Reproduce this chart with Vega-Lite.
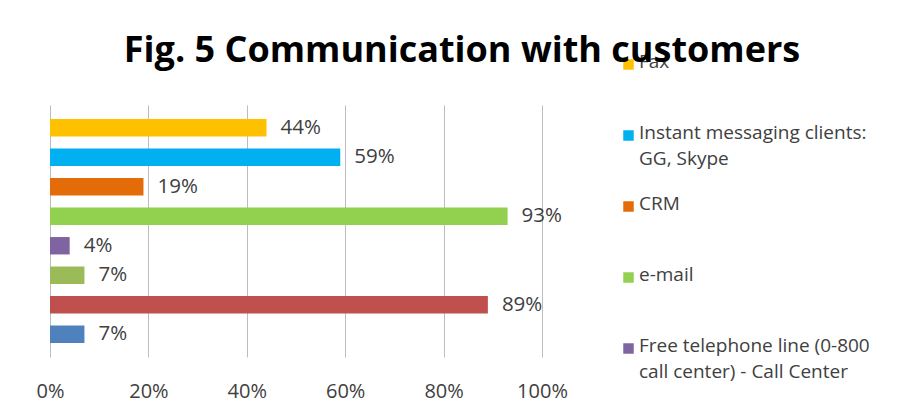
{
  "$schema": "https://vega.github.io/schema/vega-lite/v6.json",
  "autosize": {"type": "none"},
  "width": 492,
  "height": 252,
  "padding": {"left": 50, "top": 105, "right": 362, "bottom": 55},
  "background": "#ffffff",
  "title": {
    "text": "Fig. 5 Communication with customers",
    "anchor": "middle",
    "frame": "group",
    "dx": 166,
    "offset": -41,
    "font": "Open Sans",
    "fontWeight": "bold",
    "fontSize": 36,
    "color": "#000000"
  },
  "data": {
    "values": [
      {"channel": "Fax", "share": 0.44, "label": "44%"},
      {"channel": "Instant messaging clients: GG, Skype", "share": 0.59, "label": "59%"},
      {"channel": "CRM", "share": 0.19, "label": "19%"},
      {"channel": "e-mail", "share": 0.93, "label": "93%"},
      {"channel": "Free telephone line (0-800 call center) - Call Center", "share": 0.04, "label": "4%"},
      {"channel": "Social media", "share": 0.07, "label": "7%"},
      {"channel": "Telephone", "share": 0.89, "label": "89%"},
      {"channel": "Other", "share": 0.07, "label": "7%"}
    ]
  },
  "encoding": {
    "y": {
      "field": "channel",
      "type": "nominal",
      "sort": null,
      "axis": null,
      "scale": {"paddingInner": 0.41, "paddingOuter": 0.475}
    },
    "x": {
      "field": "share",
      "type": "quantitative",
      "scale": {"domain": [0, 1], "nice": false},
      "axis": {
        "values": [0, 0.2, 0.4, 0.6, 0.8, 1],
        "format": ".0%",
        "title": null,
        "domain": false,
        "ticks": false,
        "grid": true,
        "gridColor": "#bdbdbd",
        "gridWidth": 1,
        "labelFont": "Open Sans",
        "labelFontSize": 20,
        "labelColor": "#404040",
        "labelPadding": 24,
        "labelFlush": false
      }
    }
  },
  "layer": [
    {
      "mark": {"type": "bar"},
      "encoding": {
        "color": {
          "field": "channel",
          "type": "nominal",
          "scale": {
            "domain": ["Fax", "Instant messaging clients: GG, Skype", "CRM", "e-mail", "Free telephone line (0-800 call center) - Call Center", "Social media", "Telephone", "Other"],
            "range": ["#FFC000", "#00B0F0", "#E36C09", "#92D050", "#8064A2", "#9BBB59", "#C0504D", "#4F81BD"]
          },
          "legend": {
            "orient": "none",
            "legendX": 569,
            "legendY": -76,
            "title": null,
            "values": ["Fax", "Instant messaging clients: GG, Skype", "CRM", "e-mail", "Free telephone line (0-800 call center) - Call Center"],
            "symbolType": "square",
            "symbolSize": 110,
            "symbolStrokeWidth": 0,
            "labelFont": "Open Sans",
            "labelFontSize": 19,
            "labelColor": "#404040",
            "labelLimit": 400,
            "labelOffset": 1,
            "labelBaseline": "top",
            "clipHeight": 71,
            "rowPadding": 0,
            "labelExpr": "datum.label == 'Instant messaging clients: GG, Skype' ? ['Instant messaging clients:', 'GG, Skype'] : datum.label == 'Free telephone line (0-800 call center) - Call Center' ? ['Free telephone line (0-800', 'call center) - Call Center'] : datum.label",
            "encode": {"labels": {"update": {"dy": {"value": -12}, "lineHeight": {"value": 26}}}}
          }
        }
      }
    },
    {
      "mark": {"type": "text", "align": "left", "baseline": "middle", "dx": 14, "font": "Open Sans", "fontSize": 20.5, "color": "#404040"},
      "encoding": {"text": {"field": "label"}}
    }
  ],
  "config": {"view": {"stroke": null}}
}
